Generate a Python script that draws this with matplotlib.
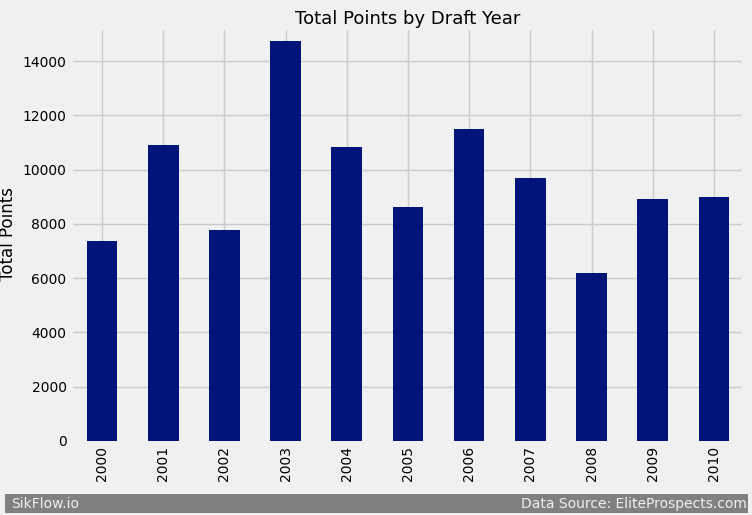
import matplotlib
matplotlib.use("Agg")
import matplotlib.pyplot as plt
from matplotlib.patches import Rectangle
import numpy as np

plt.style.use('fivethirtyeight')

years = ['2000', '2001', '2002', '2003', '2004', '2005', '2006', '2007', '2008', '2009', '2010']
points = [7370, 10900, 7770, 14740, 10830, 8620, 11500, 9690, 6190, 8920, 8990]

fig = plt.figure(figsize=(7.52, 5.15), dpi=100)
fig.patch.set_facecolor('#f0f0f0')
ax = fig.add_axes([0.095, 0.1437, 0.895, 0.802])
x = np.arange(len(years))
ax.bar(x, points, width=0.5, color='#001479', zorder=3)
ax.set_xticks(x)
ax.set_xticklabels(years, rotation=90, fontsize=10)
ax.tick_params(axis='y', labelsize=10)
ax.set_xlim(-0.5, len(years) - 0.5)
ax.set_ylim(0, 15220)
ax.set_ylabel('Total Points', fontsize=12)
ax.set_title('Total Points by Draft Year', fontsize=13, pad=2)
ax.grid(True, color='#cbcbcb', linewidth=1)

# grey footer bar
fig.patches.append(Rectangle((0.007, 0.004), 0.988, 0.036, transform=fig.transFigure,
                             facecolor='grey', edgecolor='none', zorder=1))
fig.text(0.015, 0.022, 'SikFlow.io', fontsize=10, color='#f0f0f0', ha='left', va='center')
fig.text(0.993, 0.022, 'Data Source: EliteProspects.com', fontsize=10, color='#f0f0f0',
         ha='right', va='center')

fig.savefig('out.png', dpi=100, facecolor=fig.get_facecolor())
